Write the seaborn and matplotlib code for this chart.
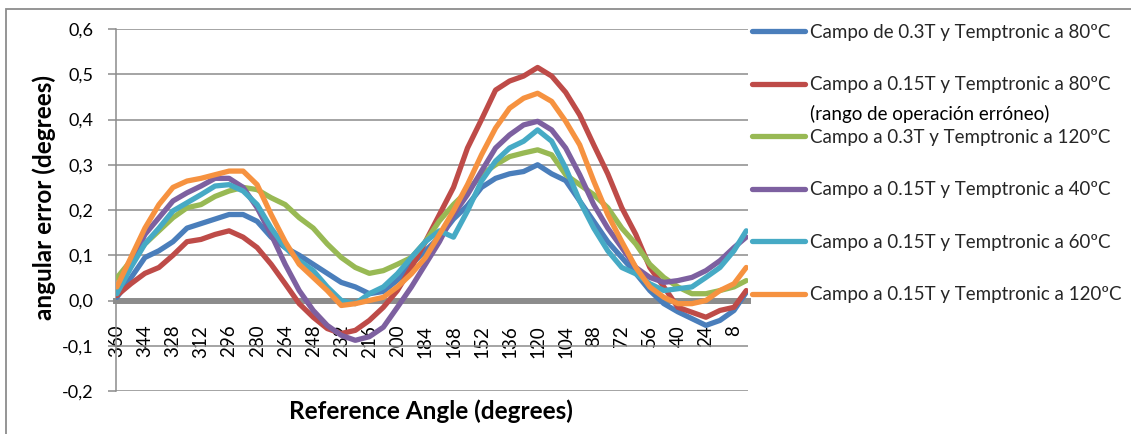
import matplotlib
matplotlib.use("Agg")
import matplotlib.pyplot as plt
from matplotlib.lines import Line2D
from matplotlib.patches import Rectangle
from matplotlib.ticker import FuncFormatter, MultipleLocator
import seaborn as sns
import pandas as pd

# ---------------- data ----------------
angles = [360, 352, 344, 336, 328, 320, 312, 304, 296, 288, 280, 272, 264, 256, 248, 240,
          232, 224, 216, 208, 200, 192, 184, 176, 168, 160, 152, 144, 136, 128, 120, 112,
          104, 96, 88, 80, 72, 64, 56, 48, 40, 32, 24, 16, 8, 1]

series_names = [
    "Campo de 0.3T y Temptronic a 80ºC",
    "Campo a 0.15T y Temptronic a 80ºC",
    "Campo a 0.3T y Temptronic a 120ºC",
    "Campo a 0.15T y Temptronic a 40ºC",
    "Campo a 0.15T y Temptronic a 60ºC",
    "Campo a 0.15T y Temptronic a 120ºC",
]
note_line = "(rango de operación erróneo)"

blue_03T_80C = [0.007, 0.05, 0.095, 0.11, 0.13, 0.16, 0.17, 0.18, 0.19, 0.19, 0.175, 0.14,
                0.117, 0.10, 0.08, 0.06, 0.04, 0.03, 0.015, 0.02, 0.045, 0.08, 0.11, 0.14,
                0.18, 0.21, 0.25, 0.27, 0.28, 0.285, 0.30, 0.28, 0.265, 0.22, 0.175, 0.13,
                0.095, 0.06, 0.022, -0.007, -0.025, -0.04, -0.055, -0.044, -0.022, 0.018]
red_015T_80C = [0.011, 0.037, 0.06, 0.073, 0.10, 0.13, 0.135, 0.146, 0.154, 0.14, 0.117, 0.08,
                0.037, -0.007, -0.037, -0.062, -0.073, -0.066, -0.044, -0.015, 0.022, 0.073,
                0.13, 0.19, 0.25, 0.337, 0.40, 0.465, 0.485, 0.496, 0.515, 0.496, 0.46, 0.41,
                0.344, 0.28, 0.205, 0.146, 0.073, 0.03, -0.015, -0.026, -0.037, -0.022,
                -0.015, 0.022]
green_03T_120C = [0.05, 0.088, 0.125, 0.154, 0.183, 0.205, 0.212, 0.23, 0.242, 0.25, 0.245,
                  0.227, 0.212, 0.183, 0.16, 0.125, 0.095, 0.073, 0.06, 0.066, 0.08, 0.095,
                  0.13, 0.176, 0.212, 0.242, 0.278, 0.30, 0.318, 0.326, 0.333, 0.322, 0.278,
                  0.256, 0.234, 0.205, 0.16, 0.125, 0.08, 0.051, 0.03, 0.015, 0.015, 0.022,
                  0.03, 0.044]
purple_015T_40C = [0.022, 0.08, 0.146, 0.183, 0.22, 0.238, 0.253, 0.27, 0.27, 0.25, 0.205,
                   0.146, 0.08, 0.022, -0.022, -0.055, -0.077, -0.088, -0.08, -0.059, -0.015,
                   0.03, 0.08, 0.13, 0.19, 0.234, 0.286, 0.337, 0.366, 0.388, 0.396, 0.377,
                   0.337, 0.278, 0.212, 0.16, 0.117, 0.073, 0.051, 0.04, 0.044, 0.051, 0.066,
                   0.088, 0.117, 0.14]
cyan_015T_60C = [0.015, 0.073, 0.125, 0.16, 0.198, 0.216, 0.234, 0.253, 0.256, 0.242, 0.212,
                 0.16, 0.117, 0.088, 0.066, 0.03, 0.0, -0.007, 0.015, 0.03, 0.059, 0.095, 0.13,
                 0.154, 0.14, 0.198, 0.264, 0.308, 0.337, 0.352, 0.377, 0.352, 0.293, 0.22,
                 0.16, 0.11, 0.073, 0.059, 0.037, 0.022, 0.026, 0.03, 0.051, 0.073, 0.11, 0.154]
orange_015T_120C = [0.03, 0.095, 0.16, 0.212, 0.25, 0.264, 0.27, 0.278, 0.286, 0.286, 0.256,
                    0.19, 0.13, 0.08, 0.051, 0.022, -0.011, -0.007, 0.0, 0.007, 0.03, 0.059,
                    0.095, 0.146, 0.198, 0.256, 0.322, 0.381, 0.425, 0.447, 0.458, 0.44, 0.396,
                    0.344, 0.264, 0.19, 0.13, 0.073, 0.03, 0.007, -0.007, -0.007, 0.0, 0.022,
                    0.037, 0.073]

x_tick_labels = [360, 344, 328, 312, 296, 280, 264, 248, 232, 216, 200, 184, 168, 152, 136,
                 120, 104, 88, 72, 56, 40, 24, 8]

colors = ["#4A7EBB", "#BE4B48", "#98B954", "#7D60A0", "#46AAC5", "#F69240"]

# ---------------- build table ----------------
all_values = [blue_03T_80C, red_015T_80C, green_03T_120C, purple_015T_40C,
              cyan_015T_60C, orange_015T_120C]
frames = []
for name, vals in zip(series_names, all_values):
    frames.append(pd.DataFrame({"angle": angles, "error": vals, "serie": name}))
df = pd.concat(frames, ignore_index=True)

# ---------------- figure ----------------
sns.set_theme(style="white")
plt.rcParams["font.family"] = ["Lato", "DejaVu Sans"]

W, H = 1131, 434
fig = plt.figure(figsize=(W / 100, H / 100), dpi=100)
ax = fig.add_axes([116 / W, 1 - 391 / H, (748 - 116) / W, (391 - 29) / H])

sns.lineplot(data=df, x="angle", y="error", hue="serie", hue_order=series_names,
             palette=dict(zip(series_names, colors)), estimator=None, sort=False,
             linewidth=3.8, legend=False, ax=ax, zorder=3)

ax.set_xlim(360.5, 0)
ax.set_ylim(-0.2, 0.6)
ax.yaxis.set_major_locator(MultipleLocator(0.1))
ax.yaxis.set_major_formatter(FuncFormatter(
    lambda v, p: ("0,0" if abs(v) < 1e-9 else f"{v:.1f}".replace(".", ","))))
ax.set_xticks(x_tick_labels)
ax.set_xticklabels([str(t) for t in x_tick_labels])

ax.yaxis.grid(True, color="#8c8c8c", linewidth=1.1)
ax.xaxis.grid(False)
for s in ["top", "right"]:
    ax.spines[s].set_visible(False)
ax.spines["left"].set_color("#8c8c8c")
ax.spines["left"].set_linewidth(1.1)
ax.spines["bottom"].set_position(("data", 0))
ax.spines["bottom"].set_color("#8c8c8c")
ax.spines["bottom"].set_linewidth(4.3)
ax.spines["bottom"].set_zorder(2.5)

ax.tick_params(axis="y", which="major", direction="out", length=5.5, width=1.1,
               color="#8c8c8c", labelsize=13, pad=11, left=True, labelcolor="black")
ax.tick_params(axis="x", which="major", length=0, pad=17.5, labelrotation=90,
               labelsize=13.5, labelcolor="black")

ax.set_xlabel("Reference Angle (degrees)", fontsize=17.5, fontweight="bold", color="black")
ax.set_ylabel("angular error (degrees)", fontsize=17.5, fontweight="bold", color="black")
ax.xaxis.set_label_coords((431 - 116) / 632, (391 - 399) / 362)
ax.yaxis.set_label_coords((56 - 116) / 632, (391 - 198) / 362)

# outer chart border
fig.patches.append(Rectangle((6 / W, -0.1), 1.2, 1.1 - 9.5 / H, transform=fig.transFigure,
                             fill=False, edgecolor="#8c8c8c", linewidth=1.3))

# legend
fs = 13.5
fs_px = fs * 100 / 72
handles = [Line2D([], [], color=c, linewidth=3.8) for c in colors]
leg = fig.legend(handles, series_names, loc="upper left",
                 bbox_to_anchor=(752 / W, 1 - 24 / H), frameon=False,
                 borderaxespad=0, borderpad=0, fontsize=fs,
                 handlelength=53 / fs_px, handletextpad=5 / fs_px, labelspacing=1.89)

fig.canvas.draw()
bb = leg.get_texts()[1].get_window_extent()
fig.text(bb.x0, (bb.y0 + bb.y1) / 2 - 29, note_line, transform=None,
         fontsize=fs, va="center", ha="left", color="black")

fig.savefig("out.png", dpi=100)
